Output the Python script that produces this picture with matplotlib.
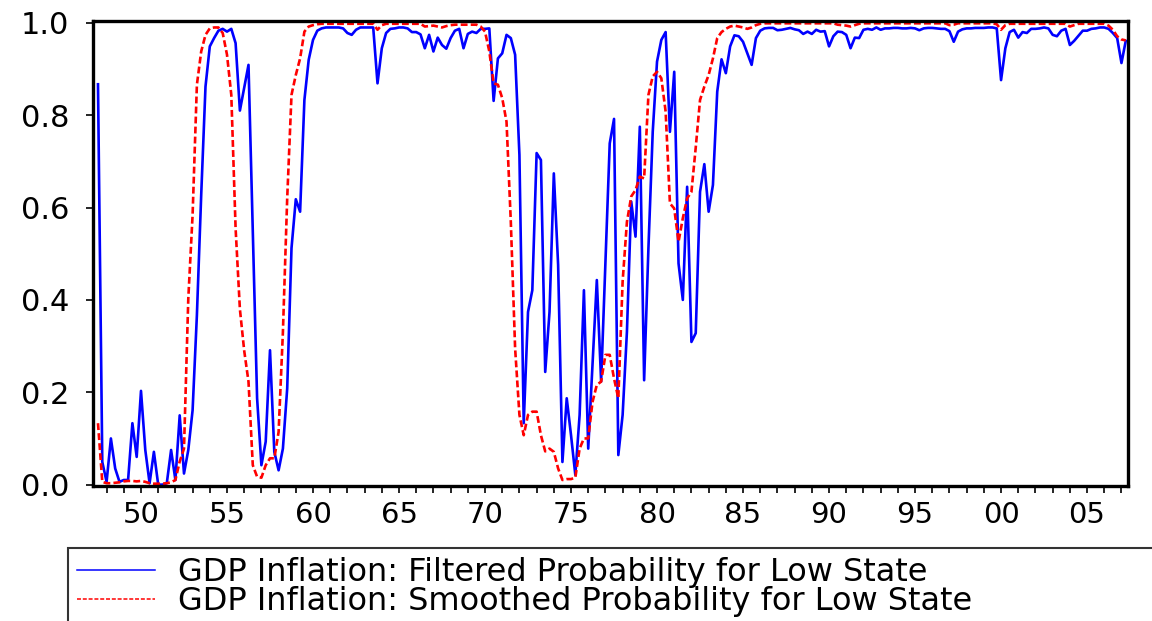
import matplotlib
matplotlib.use("Agg")
import matplotlib.pyplot as plt
import numpy as np

# quarterly probabilities, first obs 1947Q3
filtered = [
    0.867, 0.049, 0.006, 0.100, 0.035, 0.006, 0.010, 0.010, 0.133, 0.060,
    0.203, 0.075, 0.003, 0.071, 0.000, 0.000, 0.003, 0.075, 0.010, 0.150,
    0.024, 0.075, 0.161, 0.367, 0.627, 0.862, 0.949, 0.967, 0.983, 0.987,
    0.981, 0.987, 0.956, 0.810, 0.860, 0.909, 0.550, 0.187, 0.042, 0.093,
    0.291, 0.071, 0.031, 0.078, 0.208, 0.512, 0.618, 0.591, 0.833, 0.920,
    0.963, 0.983, 0.988, 0.990, 0.990, 0.990, 0.990, 0.988, 0.978, 0.974,
    0.985, 0.990, 0.990, 0.990, 0.990, 0.869, 0.945, 0.978, 0.987, 0.988,
    0.990, 0.990, 0.988, 0.980, 0.980, 0.975, 0.945, 0.974, 0.938, 0.968,
    0.952, 0.944, 0.967, 0.983, 0.987, 0.945, 0.976, 0.981, 0.978, 0.987,
    0.987, 0.988, 0.831, 0.923, 0.934, 0.974, 0.967, 0.931, 0.714, 0.133,
    0.374, 0.421, 0.718, 0.703, 0.244, 0.374, 0.674, 0.476, 0.049, 0.187,
    0.107, 0.021, 0.151, 0.421, 0.078, 0.260, 0.443, 0.223, 0.480, 0.739,
    0.792, 0.064, 0.151, 0.331, 0.613, 0.537, 0.775, 0.226, 0.512, 0.764,
    0.916, 0.963, 0.980, 0.764, 0.894, 0.479, 0.400, 0.645, 0.309, 0.328,
    0.634, 0.694, 0.591, 0.649, 0.851, 0.921, 0.891, 0.949, 0.973, 0.971,
    0.959, 0.934, 0.909, 0.967, 0.983, 0.988, 0.989, 0.989, 0.984, 0.985,
    0.987, 0.989, 0.986, 0.984, 0.976, 0.981, 0.976, 0.985, 0.981, 0.982,
    0.949, 0.971, 0.981, 0.980, 0.974, 0.945, 0.968, 0.967, 0.985, 0.987,
    0.985, 0.990, 0.985, 0.988, 0.988, 0.989, 0.989, 0.988, 0.988, 0.989,
    0.988, 0.984, 0.988, 0.989, 0.989, 0.988, 0.987, 0.987, 0.982, 0.959,
    0.981, 0.986, 0.988, 0.988, 0.989, 0.989, 0.989, 0.990, 0.990, 0.988,
    0.876, 0.945, 0.980, 0.985, 0.968, 0.980, 0.978, 0.987, 0.987, 0.988,
    0.990, 0.988, 0.974, 0.971, 0.983, 0.987, 0.952, 0.961, 0.972, 0.983,
    0.983, 0.987, 0.988, 0.990, 0.990, 0.987, 0.978, 0.967, 0.913, 0.961,
]

smoothed = [
    0.133, 0.006, 0.003, 0.003, 0.004, 0.005, 0.007, 0.008, 0.008, 0.007,
    0.008, 0.006, 0.003, 0.002, 0.002, 0.002, 0.003, 0.005, 0.010, 0.050,
    0.078, 0.403, 0.584, 0.866, 0.938, 0.974, 0.988, 0.990, 0.990, 0.978,
    0.931, 0.844, 0.555, 0.380, 0.290, 0.223, 0.042, 0.017, 0.015, 0.042,
    0.057, 0.057, 0.114, 0.330, 0.620, 0.844, 0.887, 0.923, 0.981, 0.992,
    0.995, 0.997, 0.998, 0.998, 0.998, 0.998, 0.998, 0.998, 0.998, 0.998,
    0.998, 0.998, 0.998, 0.998, 0.998, 0.985, 0.995, 0.998, 0.998, 0.998,
    0.998, 0.998, 0.998, 0.998, 0.998, 0.998, 0.992, 0.993, 0.994, 0.992,
    0.990, 0.993, 0.995, 0.996, 0.996, 0.996, 0.996, 0.996, 0.996, 0.992,
    0.981, 0.938, 0.869, 0.866, 0.837, 0.786, 0.569, 0.295, 0.151, 0.107,
    0.151, 0.158, 0.158, 0.107, 0.072, 0.078, 0.071, 0.035, 0.010, 0.012,
    0.012, 0.015, 0.078, 0.100, 0.100, 0.179, 0.216, 0.223, 0.281, 0.281,
    0.230, 0.187, 0.440, 0.569, 0.624, 0.638, 0.667, 0.663, 0.844, 0.884,
    0.894, 0.880, 0.808, 0.609, 0.598, 0.526, 0.577, 0.620, 0.634, 0.730,
    0.833, 0.862, 0.887, 0.923, 0.967, 0.980, 0.987, 0.992, 0.994, 0.992,
    0.990, 0.987, 0.990, 0.995, 0.998, 0.999, 0.999, 0.999, 0.999, 0.999,
    0.999, 0.999, 0.999, 0.999, 0.999, 0.999, 0.999, 0.999, 0.999, 0.999,
    0.999, 0.999, 0.996, 0.995, 0.994, 0.992, 0.995, 0.998, 0.999, 0.999,
    0.999, 0.999, 0.999, 0.999, 0.999, 0.999, 0.999, 0.999, 0.999, 0.999,
    0.999, 0.999, 0.999, 0.999, 0.999, 0.999, 0.999, 0.999, 0.995, 0.996,
    0.999, 0.999, 0.999, 0.999, 0.999, 0.999, 0.999, 0.999, 0.999, 0.997,
    0.985, 0.995, 0.998, 0.998, 0.998, 0.998, 0.998, 0.998, 0.998, 0.998,
    0.998, 0.998, 0.998, 0.998, 0.998, 0.998, 0.992, 0.995, 0.998, 0.998,
    0.998, 0.998, 0.998, 0.998, 0.998, 0.994, 0.985, 0.971, 0.964, 0.962,
]

start = 1947.5
dates = start + 0.25 * np.arange(len(filtered))

tick_years = list(range(1948, 2008))
tick_labels = ["%02d" % (y % 100) if y % 5 == 0 else "" for y in tick_years]
y_ticks = [0.0, 0.2, 0.4, 0.6, 0.8, 1.0]

plt.rcParams["font.family"] = "DejaVu Sans"

fig = plt.figure(figsize=(11.52, 6.21), dpi=100)
W, H = 1152, 621
ax = fig.add_axes([93 / W, 1 - 486 / H, (1128 - 93) / W, (486 - 21) / H])

ax.plot(dates, filtered, color="#0000ff", lw=1.9,
        label="GDP Inflation: Filtered Probability for Low State")
ax.plot(dates, smoothed, color="#ff0000", lw=1.9, ls=(0, (2.6, 1.2)),
        label="GDP Inflation: Smoothed Probability for Low State")

ax.set_xlim(1947.21, 2007.38)
ax.set_ylim(-0.003, 1.004)

ax.set_xticks(tick_years)
ax.set_xticklabels(tick_labels, fontsize=21)
ax.set_yticks(y_ticks)
ax.set_yticklabels(["%.1f" % v for v in y_ticks], fontsize=22)
ax.tick_params(axis="both", direction="out", length=5, width=1.2, color="black")
ax.tick_params(axis="x", pad=6)
ax.tick_params(axis="y", pad=12)

for s in ax.spines.values():
    s.set_linewidth(2.4)
    s.set_color("black")

# legend box runs off the right edge like the original
leg = fig.legend(loc="upper left",
                 bbox_to_anchor=(68 / W, 1 - 548 / H, (1170 - 68) / W, 0),
                 mode="expand", fontsize=23, frameon=True, fancybox=False,
                 edgecolor="black", handlelength=2.45, handletextpad=0.7,
                 borderpad=0.28, labelspacing=-0.05, borderaxespad=0)
leg.get_frame().set_linewidth(1.5)
for ln in leg.get_lines():
    ln.set_linewidth(1.1)

fig.savefig("out.png", dpi=100)
